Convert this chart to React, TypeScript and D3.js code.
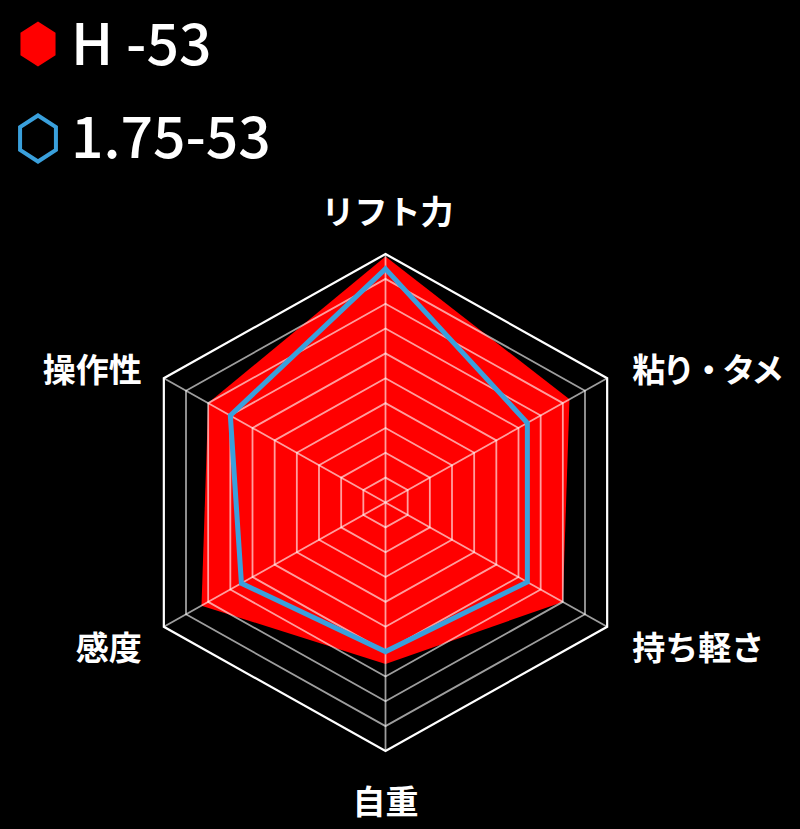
import React from 'react';
import * as d3 from 'd3';

// axis labels, clockwise from the top
const axes = ['リフト力', '粘り・タメ', '持ち軽さ', '自重', '感度', '操作性'];

// series names
const seriesNames = ['H -53', '1.75-53'];

// scores on a 0..10 scale, same order as axes
const valuesH = [9.9, 8.3, 8.0, 6.5, 8.3, 8.0];
const values175 = [9.4, 6.4, 6.4, 6.0, 6.5, 7.0];

const levels = d3.range(1, 11);

const WIDTH = 800;
const HEIGHT = 829;
const cx = 385.5;
const cy = 502.5;
const R = 248.5;
const stretchX = 1.03;
const RED = '#ff0000';
const BLUE = '#3aa0dc';
const FONT = '"Noto Sans CJK JP", "Noto Sans", sans-serif';

const rScale = d3.scaleLinear().domain([0, 10]).range([0, R]);
const angle = d3.scaleLinear().domain([0, axes.length]).range([0, 2 * Math.PI]);

function pt(i: number, v: number): [number, number] {
  const a = angle(i);
  const r = rScale(v);
  return [cx + Math.sin(a) * r * stretchX, cy - Math.cos(a) * r];
}

const closed = d3.line<[number, number]>().curve(d3.curveLinearClosed);

function hexPath(x: number, y: number, ry: number) {
  const pts: [number, number][] = d3.range(6).map((i) => {
    const a = (i * Math.PI) / 3;
    return [x + Math.sin(a) * ry * 0.9, y - Math.cos(a) * ry];
  });
  return closed(pts) || '';
}

export default function App() {
  const ring = (lv: number) => closed(axes.map((_, i) => pt(i, lv))) || '';

  // label placement around the outer ring
  const labelPos = (i: number) => {
    const [vx] = pt(i, 10);
    if (i === 0) return { x: vx + 2, y: 212, anchor: 'middle' };
    if (i === 3) return { x: vx, y: 802, anchor: 'middle' };
    if (i === 1 || i === 2) return { x: vx + 25, y: i === 1 ? 370 : 648, anchor: 'start' };
    return { x: vx - 22, y: i === 5 ? 370 : 648, anchor: 'end' };
  };

  return (
    <svg
      width={WIDTH}
      height={HEIGHT}
      style={{ position: 'absolute', left: 0, top: 0, background: '#000' }}
    >
      <rect width={WIDTH} height={HEIGHT} fill="#000" />

      {/* legend */}
      <path d={hexPath(38, 44, 22.5)} fill={RED} />
      <text x={71} y={65} fill="#fff" fontFamily={FONT} fontWeight={500} fontSize={57}>
        {seriesNames[0]}
      </text>
      <path d={hexPath(38, 138.5, 23)} fill="none" stroke={BLUE} strokeWidth={4} />
      <text x={71} y={158} fill="#fff" fontFamily={FONT} fontWeight={500} fontSize={57}>
        {seriesNames[1]}
      </text>

      {/* red area */}
      <path d={closed(valuesH.map((v, i) => pt(i, v))) || ''} fill={RED} />

      {/* grid */}
      {levels.slice(0, -1).map((lv) => (
        <path key={lv} d={ring(lv)} fill="none" stroke="rgba(255,255,255,0.62)" strokeWidth={1.8} />
      ))}
      {axes.map((_, i) => {
        const [x, y] = pt(i, 10);
        return (
          <line key={i} x1={cx} y1={cy} x2={x} y2={y} stroke="rgba(255,255,255,0.62)" strokeWidth={1.8} />
        );
      })}
      <path d={ring(10)} fill="none" stroke="#fff" strokeWidth={2.2} />

      {/* blue outline */}
      <path
        d={closed(values175.map((v, i) => pt(i, v))) || ''}
        fill="none"
        stroke={BLUE}
        strokeWidth={5}
        strokeLinejoin="miter"
      />

      {/* axis labels */}
      {axes.map((name, i) => {
        const p = labelPos(i);
        return (
          <text
            key={name}
            x={p.x}
            y={p.y}
            dy="0.36em"
            textAnchor={p.anchor}
            fill="#fff"
            fontFamily={FONT}
            fontWeight={700}
            fontSize={33}
            letterSpacing={i === 1 ? -3 : 0}
          >
            {name}
          </text>
        );
      })}
    </svg>
  );
}
